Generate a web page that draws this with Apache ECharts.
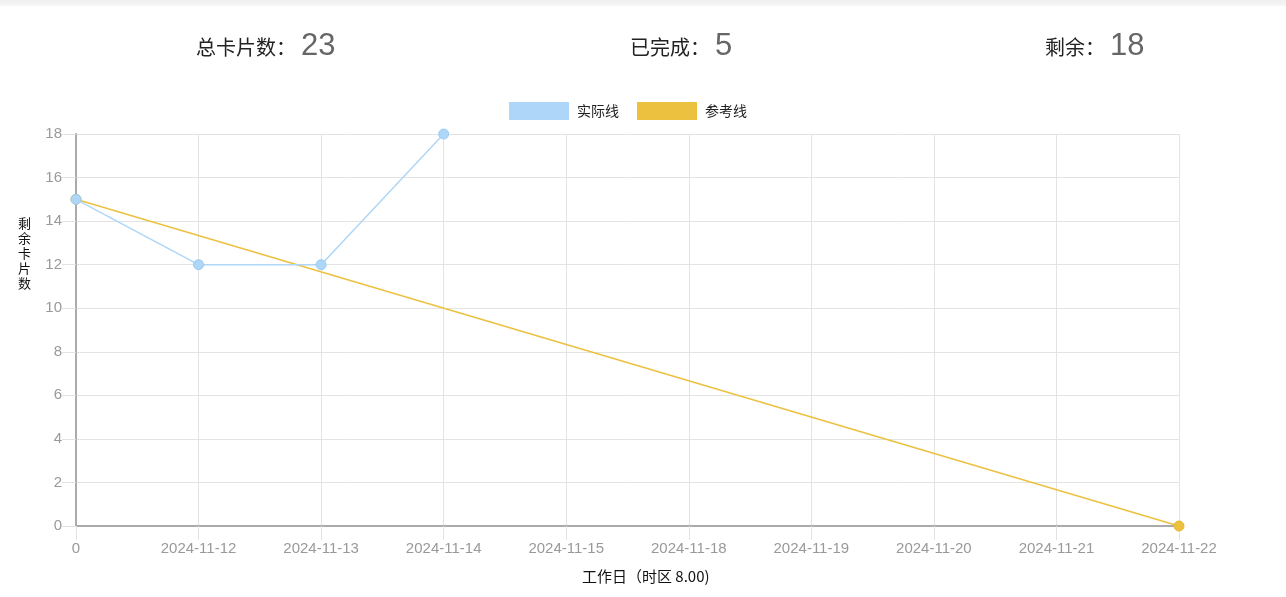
<!DOCTYPE html>
<html>
<head>
<meta charset="utf-8">
<script src="https://cdn.jsdelivr.net/npm/echarts@6/dist/echarts.min.js"></script>
<style>
html,body{margin:0;padding:0;background:#fff;width:1286px;height:597px;overflow:hidden;font-family:"Liberation Sans","Noto Sans CJK SC",sans-serif;}
#topbar{position:absolute;left:0;top:0;width:1286px;height:6px;background:linear-gradient(#f0f0f0,#f7f7f7);}
.stat{position:absolute;top:27px;white-space:nowrap;color:#222;}
.stat .lbl{font-size:20px;font-family:"Noto Sans CJK SC",sans-serif;vertical-align:baseline;}
.stat .num{font-size:31px;color:#666;font-family:"Liberation Sans",sans-serif;vertical-align:baseline;margin-left:5px;}
#chart{position:absolute;left:0;top:0;width:1286px;height:597px;}
</style>
</head>
<body>
<div id="topbar"></div>
<div id="chart"></div>
<div class="stat" style="left:196px"><span class="lbl">总卡片数：</span><span class="num" id="s1"></span></div>
<div class="stat" style="left:630px"><span class="lbl">已完成：</span><span class="num" id="s2"></span></div>
<div class="stat" style="left:1045px"><span class="lbl">剩余：</span><span class="num" id="s3"></span></div>
<script>
var totalCards = 23, doneCards = 5, remainCards = 18;
var categories = ['0','2024-11-12','2024-11-13','2024-11-14','2024-11-15','2024-11-18','2024-11-19','2024-11-20','2024-11-21','2024-11-22'];
var actualValues = [15, 12, 12, 18, null, null, null, null, null, null];
var referenceValues = [15, null, null, null, null, null, null, null, null, 0];
var seriesNames = ['实际线', '参考线'];

document.getElementById('s1').textContent = totalCards;
document.getElementById('s2').textContent = doneCards;
document.getElementById('s3').textContent = remainCards;

var blue = '#aed6f8', yellow = '#ecc140';
var chart = echarts.init(document.getElementById('chart'));
chart.setOption({
  animation: false,
  legend: {
    top: 102, left: 509, padding: 0,
    itemWidth: 60, itemHeight: 18, itemGap: 18,
    icon: 'rect',
    itemStyle: {borderWidth: 0},
    textStyle: {fontSize: 14, color: '#222', fontFamily: 'Noto Sans CJK SC', padding: [0, 0, 0, 3]},
    data: seriesNames
  },
  grid: {left: 76, right: 107, top: 134, bottom: 71, containLabel: false},
  xAxis: {
    type: 'category', boundaryGap: false, data: categories,
    axisLine: {lineStyle: {color: '#aaa', width: 2}},
    axisTick: {show: true, length: 14, alignWithLabel: true, lineStyle: {color: '#e3e3e3'}},
    axisLabel: {color: '#999', fontSize: 15, margin: 15, fontFamily: 'Liberation Sans'},
    splitLine: {show: true, lineStyle: {color: '#e3e3e3'}}
  },
  yAxis: {
    type: 'value', min: 0, max: 18, interval: 2,
    axisLine: {show: true, lineStyle: {color: '#aaa', width: 2}},
    axisTick: {show: true, length: 14, lineStyle: {color: '#e3e3e3'}},
    axisLabel: {color: '#999', fontSize: 15, margin: 14, fontFamily: 'Liberation Sans'},
    splitLine: {show: true, lineStyle: {color: '#e3e3e3'}}
  },
  graphic: [
    {type: 'text', left: 18, top: 216, style: {text: '剩\n余\n卡\n片\n数', fontSize: 13, lineHeight: 15, fill: '#111', fontFamily: 'Noto Sans CJK SC'}},
    {type: 'text', left: 582, top: 569, style: {text: '工作日（时区 8.00)', fontSize: 15, fill: '#111', fontFamily: 'Noto Sans CJK SC'}}
  ],
  series: [
    {
      name: seriesNames[1], type: 'line', data: referenceValues, connectNulls: true,
      symbol: 'circle', symbolSize: 10, z: 2,
      lineStyle: {color: yellow, width: 1.5},
      itemStyle: {color: yellow, borderColor: '#e5b730', borderWidth: 1}
    },
    {
      name: seriesNames[0], type: 'line', data: actualValues,
      symbol: 'circle', symbolSize: 10, z: 3,
      lineStyle: {color: blue, width: 1.5},
      itemStyle: {color: blue, borderColor: '#9ccbf0', borderWidth: 1}
    }
  ]
});
</script>
</body>
</html>
